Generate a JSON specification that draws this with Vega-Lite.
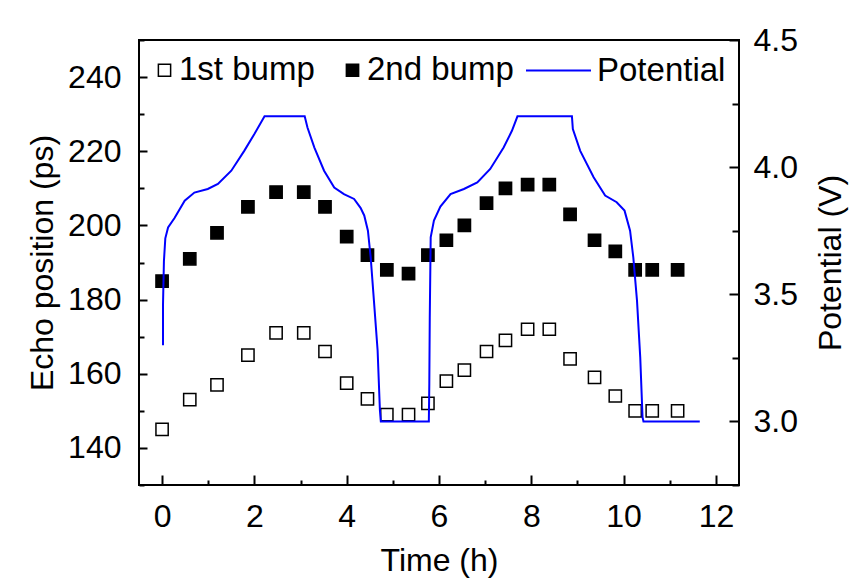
{
  "$schema": "https://vega.github.io/schema/vega-lite/v6.json",
  "width": 600,
  "height": 445,
  "autosize": "none",
  "padding": {"left": 139, "top": 40, "right": 122, "bottom": 94},
  "background": "white",
  "config": {
    "font": "Liberation Sans",
    "view": {"stroke": "black", "strokeWidth": 2},
    "axis": {
      "grid": false,
      "domain": false,
      "labelFont": "Liberation Sans",
      "titleFont": "Liberation Sans",
      "labelFontSize": 32,
      "titleFontSize": 32,
      "titleFontWeight": "normal",
      "labelColor": "black",
      "titleColor": "black",
      "tickColor": "black",
      "tickWidth": 2
    },
    "legend": {
      "labelFont": "Liberation Sans",
      "labelFontSize": 33,
      "labelColor": "black",
      "padding": 0,
      "title": null
    }
  },
  "datasets": {
    "bumps": [
      {"time": 0.0, "echo": 145, "series": "1st bump"},
      {"time": 0.6, "echo": 153, "series": "1st bump"},
      {"time": 1.19, "echo": 157, "series": "1st bump"},
      {"time": 1.86, "echo": 165, "series": "1st bump"},
      {"time": 2.47, "echo": 171, "series": "1st bump"},
      {"time": 3.07, "echo": 171, "series": "1st bump"},
      {"time": 3.53, "echo": 166, "series": "1st bump"},
      {"time": 4.0, "echo": 157.5, "series": "1st bump"},
      {"time": 4.45, "echo": 153.2, "series": "1st bump"},
      {"time": 4.87, "echo": 149, "series": "1st bump"},
      {"time": 5.34, "echo": 149, "series": "1st bump"},
      {"time": 5.76, "echo": 152, "series": "1st bump"},
      {"time": 6.16, "echo": 158, "series": "1st bump"},
      {"time": 6.55, "echo": 161, "series": "1st bump"},
      {"time": 7.03, "echo": 166, "series": "1st bump"},
      {"time": 7.44, "echo": 169, "series": "1st bump"},
      {"time": 7.92, "echo": 172, "series": "1st bump"},
      {"time": 8.39, "echo": 172, "series": "1st bump"},
      {"time": 8.84, "echo": 164, "series": "1st bump"},
      {"time": 9.37, "echo": 159, "series": "1st bump"},
      {"time": 9.82, "echo": 154, "series": "1st bump"},
      {"time": 10.25, "echo": 150, "series": "1st bump"},
      {"time": 10.62, "echo": 150, "series": "1st bump"},
      {"time": 11.17, "echo": 150, "series": "1st bump"},
      {"time": 0.0, "echo": 185, "series": "2nd bump"},
      {"time": 0.6, "echo": 191, "series": "2nd bump"},
      {"time": 1.19, "echo": 198, "series": "2nd bump"},
      {"time": 1.86, "echo": 205, "series": "2nd bump"},
      {"time": 2.47, "echo": 209, "series": "2nd bump"},
      {"time": 3.07, "echo": 209, "series": "2nd bump"},
      {"time": 3.53, "echo": 205, "series": "2nd bump"},
      {"time": 4.0, "echo": 197, "series": "2nd bump"},
      {"time": 4.45, "echo": 192, "series": "2nd bump"},
      {"time": 4.87, "echo": 188, "series": "2nd bump"},
      {"time": 5.34, "echo": 187, "series": "2nd bump"},
      {"time": 5.76, "echo": 192, "series": "2nd bump"},
      {"time": 6.16, "echo": 196, "series": "2nd bump"},
      {"time": 6.55, "echo": 200, "series": "2nd bump"},
      {"time": 7.03, "echo": 206, "series": "2nd bump"},
      {"time": 7.44, "echo": 210, "series": "2nd bump"},
      {"time": 7.92, "echo": 211, "series": "2nd bump"},
      {"time": 8.39, "echo": 211, "series": "2nd bump"},
      {"time": 8.84, "echo": 203, "series": "2nd bump"},
      {"time": 9.37, "echo": 196, "series": "2nd bump"},
      {"time": 9.82, "echo": 193, "series": "2nd bump"},
      {"time": 10.25, "echo": 188, "series": "2nd bump"},
      {"time": 10.62, "echo": 188, "series": "2nd bump"},
      {"time": 11.17, "echo": 188, "series": "2nd bump"}
    ],
    "potential": [
      {"time": 0.02, "V": 3.3},
      {"time": 0.02, "V": 3.46},
      {"time": 0.04, "V": 3.63},
      {"time": 0.07, "V": 3.72},
      {"time": 0.13, "V": 3.763},
      {"time": 0.27, "V": 3.8},
      {"time": 0.49, "V": 3.868},
      {"time": 0.7, "V": 3.9},
      {"time": 0.99, "V": 3.914},
      {"time": 1.21, "V": 3.934},
      {"time": 1.5, "V": 3.986},
      {"time": 1.78, "V": 4.064},
      {"time": 2.0, "V": 4.13},
      {"time": 2.22, "V": 4.2},
      {"time": 3.09, "V": 4.2},
      {"time": 3.15, "V": 4.156},
      {"time": 3.3, "V": 4.077},
      {"time": 3.51, "V": 3.986},
      {"time": 3.73, "V": 3.92},
      {"time": 3.94, "V": 3.894},
      {"time": 4.16, "V": 3.875},
      {"time": 4.3, "V": 3.84},
      {"time": 4.38, "V": 3.81},
      {"time": 4.46, "V": 3.75},
      {"time": 4.52, "V": 3.645},
      {"time": 4.59, "V": 3.475},
      {"time": 4.67, "V": 3.279},
      {"time": 4.72, "V": 3.043},
      {"time": 4.74, "V": 3.0},
      {"time": 5.78, "V": 3.0},
      {"time": 5.79, "V": 3.148},
      {"time": 5.8, "V": 3.41},
      {"time": 5.82, "V": 3.724},
      {"time": 5.89, "V": 3.79},
      {"time": 6.03, "V": 3.845},
      {"time": 6.25, "V": 3.894},
      {"time": 6.54, "V": 3.914},
      {"time": 6.83, "V": 3.94},
      {"time": 7.11, "V": 3.993},
      {"time": 7.4, "V": 4.077},
      {"time": 7.58, "V": 4.143},
      {"time": 7.7, "V": 4.2},
      {"time": 8.88, "V": 4.2},
      {"time": 8.9, "V": 4.15},
      {"time": 9.06, "V": 4.064},
      {"time": 9.35, "V": 3.96},
      {"time": 9.6, "V": 3.888},
      {"time": 9.85, "V": 3.862},
      {"time": 10.02, "V": 3.829},
      {"time": 10.14, "V": 3.75},
      {"time": 10.21, "V": 3.645},
      {"time": 10.29, "V": 3.475},
      {"time": 10.36, "V": 3.253},
      {"time": 10.41, "V": 3.017},
      {"time": 10.43, "V": 3.0},
      {"time": 11.65, "V": 3.0}
    ]
  },
  "layer": [
    {
      "data": {"name": "bumps"},
      "mark": {"type": "point", "shape": "square", "filled": true, "size": 150, "stroke": "black", "strokeWidth": 1.5, "opacity": 1},
      "encoding": {
        "x": {
          "field": "time", "type": "quantitative",
          "scale": {"domain": [-0.5, 12.5], "nice": false, "zero": false},
          "axis": {
            "title": "Time (h)",
            "values": [0, 1, 2, 3, 4, 5, 6, 7, 8, 9, 10, 11, 12],
            "labelExpr": "datum.value % 2 === 0 ? datum.label : ''",
            "tickSize": {"condition": {"test": "datum.value % 2 === 0", "value": -10}, "value": -5},
            "labelPadding": 26,
            "titlePadding": 13
          }
        },
        "y": {
          "field": "echo", "type": "quantitative",
          "scale": {"domain": [130, 250], "nice": false, "zero": false},
          "axis": {
            "title": "Echo position (ps)",
            "values": [130, 140, 150, 160, 170, 180, 190, 200, 210, 220, 230, 240, 250],
            "labelExpr": "datum.value % 20 === 0 ? datum.label : ''",
            "tickSize": {"condition": {"test": "datum.value % 20 === 0", "value": -8}, "value": -5},
            "labelPadding": 26,
            "titlePadding": 8
          }
        },
        "fill": {
          "field": "series", "type": "nominal",
          "scale": {"domain": ["1st bump", "2nd bump"], "range": ["white", "black"]},
          "legend": {
            "orient": "none", "legendX": 9, "legendY": 13.5,
            "direction": "horizontal",
            "symbolType": "square", "symbolSize": 150,
            "symbolStrokeColor": "black", "symbolStrokeWidth": 1.5,
            "labelOffset": -2, "columnPadding": 21
          }
        }
      }
    },
    {
      "data": {"name": "potential"},
      "mark": {"type": "line", "strokeWidth": 2},
      "encoding": {
        "x": {"field": "time", "type": "quantitative"},
        "y": {
          "field": "V", "type": "quantitative",
          "scale": {"domain": [2.75, 4.5], "nice": false, "zero": false},
          "axis": {
            "orient": "right",
            "title": "Potential (V)",
            "titleAngle": 270,
            "titleBaseline": "top",
            "values": [2.75, 3.0, 3.25, 3.5, 3.75, 4.0, 4.25, 4.5],
            "labelExpr": "(datum.value * 2) % 1 === 0 ? format(datum.value, '.1f') : ''",
            "tickSize": {"condition": {"test": "(datum.value * 2) % 1 === 0", "value": -10}, "value": -7},
            "labelPadding": 24,
            "titlePadding": 18
          }
        },
        "stroke": {
          "datum": "Potential", "type": "nominal",
          "scale": {"domain": ["Potential"], "range": ["#0000ff"]},
          "legend": {
            "orient": "none", "legendX": 386, "legendY": -3,
            "direction": "horizontal",
            "symbolType": "stroke", "symbolSize": 4225,
            "symbolStrokeWidth": 2,
            "labelOffset": 5
          }
        }
      }
    }
  ],
  "resolve": {"scale": {"y": "independent", "fill": "independent", "stroke": "independent"}}
}
